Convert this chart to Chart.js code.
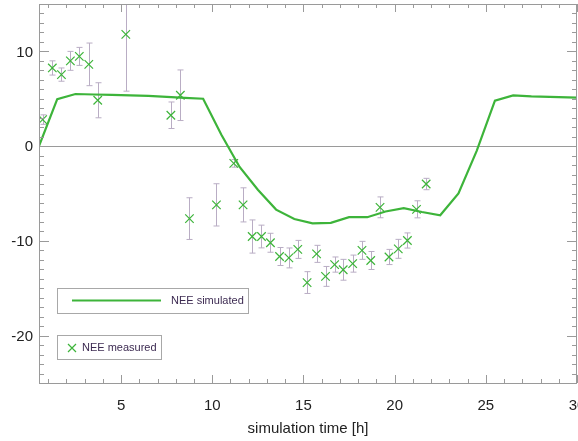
<!DOCTYPE html>
<html>
<head>
<meta charset="utf-8">
<script src="https://cdn.jsdelivr.net/npm/chart.js@4/dist/chart.umd.min.js"></script>
<style>
  html, body { margin: 0; padding: 0; background: #fff; overflow: hidden; }
  #wrap { width: 578px; height: 441px; position: relative; }
</style>
</head>
<body>
<div id="wrap"><canvas id="neeChart"></canvas></div>
<script>
// simulated NEE, hourly
const simT = [0.5, 1.5, 2.5, 3.5, 4.5, 5.5, 6.5, 7.5, 8.5, 9.5, 10.5, 11.5, 12.5, 13.5, 14.5, 15.5,
              16.5, 17.5, 18.5, 19.5, 20.5, 21.5, 22.5, 23.5, 24.5, 25.5, 26.5, 27.5, 28.5, 29.5, 30.5];
const simV = [0, 4.95, 5.5, 5.45, 5.4, 5.35, 5.3, 5.2, 5.1, 5.0, 1.2, -2.2, -4.6, -6.7, -7.7, -8.15,
              -8.1, -7.5, -7.5, -6.9, -6.55, -6.95, -7.3, -5.0, -0.5, 4.8, 5.35, 5.25, 5.2, 5.15, 5.1];

// measured NEE with error
const measT = [0.7, 1.23, 1.73, 2.22, 2.71, 3.23, 3.72, 5.26, 7.73, 8.25, 8.75, 10.23, 11.18, 11.69,
               12.19, 12.7, 13.19, 13.69, 14.2, 14.69, 15.2, 15.72, 16.21, 16.71, 17.18, 17.7,
               18.21, 18.69, 19.2, 19.69, 20.2, 20.7, 21.2, 21.73];
const measV = [2.8, 8.25, 7.55, 9.0, 9.47, 8.63, 4.84, 11.8, 3.26, 5.37, -7.65, -6.2, -1.82, -6.2,
               -9.54, -9.54, -10.2, -11.65, -11.8, -10.9, -14.4, -11.37, -13.75, -12.5, -13.05, -12.4,
               -11.0, -12.07, -6.46, -11.7, -10.84, -9.96, -6.67, -4.0];
const measErr = [0.5, 0.75, 0.7, 1.0, 0.95, 2.25, 1.85, 6.0, 1.4, 2.67, 2.2, 2.23, 0.4, 1.8,
                 1.75, 1.2, 1.0, 0.95, 1.05, 0.95, 1.15, 0.9, 1.05, 0.8, 1.1, 0.9,
                 0.95, 0.95, 1.1, 0.8, 1.0, 0.8, 0.9, 0.6];

const xTickVals = [5, 10, 15, 20, 25, 30];
const yTickVals = [-20, -10, 0, 10];
const xTitle = "simulation time [h]";

const green = "#3db43a";
const axisGrey = "#9a9a9a";
const errColor = "#b9adc4";
const font15 = "15px 'Liberation Sans', Arial, sans-serif";

const idlFrame = {
  id: "idlFrame",
  beforeDatasetsDraw(chart) {
    const {ctx, chartArea: a, scales: {x, y}} = chart;
    ctx.save();
    // zero line
    const y0 = Math.round(y.getPixelForValue(0)) + 0.5;
    ctx.strokeStyle = axisGrey;
    ctx.lineWidth = 1;
    ctx.beginPath();
    ctx.moveTo(a.left, y0);
    ctx.lineTo(a.right, y0);
    ctx.stroke();
    // error bars
    ctx.beginPath();
    ctx.rect(a.left, a.top, a.right - a.left, a.bottom - a.top);
    ctx.clip();
    ctx.strokeStyle = errColor;
    ctx.lineWidth = 1;
    ctx.beginPath();
    for (let i = 0; i < measT.length; i++) {
      const px = Math.round(x.getPixelForValue(measT[i])) + 0.5;
      const lo = y.getPixelForValue(measV[i] - measErr[i]);
      const hi = y.getPixelForValue(measV[i] + measErr[i]);
      ctx.moveTo(px, lo); ctx.lineTo(px, hi);
      ctx.moveTo(px - 3, lo); ctx.lineTo(px + 3, lo);
      ctx.moveTo(px - 3, hi); ctx.lineTo(px + 3, hi);
    }
    ctx.stroke();
    ctx.restore();
  },
  afterDraw(chart) {
    const {ctx, chartArea: a, scales: {x, y}} = chart;
    ctx.save();
    ctx.strokeStyle = axisGrey;
    ctx.lineWidth = 1;
    ctx.strokeRect(a.left + 0.5, a.top + 0.5, a.right - a.left - 1, a.bottom - a.top);
    ctx.beginPath();
    // x ticks, pointing inward on bottom and top
    for (let t = 1; t <= 30; t++) {
      const px = Math.round(x.getPixelForValue(t)) + 0.5;
      const len = t % 5 === 0 ? 8 : 4;
      ctx.moveTo(px, a.bottom); ctx.lineTo(px, a.bottom - len);
      ctx.moveTo(px, a.top); ctx.lineTo(px, a.top + len);
    }
    // y ticks, left and right
    for (let v = -25; v <= 15; v++) {
      const py = Math.round(y.getPixelForValue(v)) + 0.5;
      const len = v % 10 === 0 ? 10 : 5;
      ctx.moveTo(a.left, py); ctx.lineTo(a.left + len, py);
      ctx.moveTo(a.right, py); ctx.lineTo(a.right - len, py);
    }
    ctx.stroke();

    // tick labels and axis title
    ctx.fillStyle = "#222";
    ctx.font = font15;
    ctx.textBaseline = "middle";
    ctx.textAlign = "center";
    xTickVals.forEach(v => ctx.fillText(String(v), x.getPixelForValue(v), a.bottom + 23));
    ctx.fillText(xTitle, (a.left + a.right) / 2, a.bottom + 46);
    ctx.textAlign = "right";
    yTickVals.forEach(v => ctx.fillText(String(v), a.left - 6, y.getPixelForValue(v) + 1));

    // legend boxes
    ctx.font = "11px 'Liberation Sans', Arial, sans-serif";
    ctx.textAlign = "left";
    ctx.strokeStyle = "#a8a8a8";
    ctx.strokeRect(57.5, 288.5, 191, 25);
    ctx.strokeRect(57.5, 335.5, 104, 24);
    ctx.strokeStyle = green;
    ctx.lineWidth = 2.2;
    ctx.beginPath();
    ctx.moveTo(72, 300.5); ctx.lineTo(161, 300.5);
    ctx.stroke();
    ctx.lineWidth = 1.2;
    ctx.beginPath();
    ctx.moveTo(68, 344); ctx.lineTo(76, 352);
    ctx.moveTo(76, 344); ctx.lineTo(68, 352);
    ctx.stroke();
    ctx.fillStyle = "#3d2b52";
    ctx.fillText("NEE simulated", 171, 301);
    ctx.fillText("NEE measured", 82, 348);
    ctx.restore();
  }
};

const neeChart = new Chart("neeChart", {
  type: "scatter",
  data: {
    datasets: [{
      label: "NEE simulated",
      data: simT.map((t, i) => ({x: t, y: simV[i]})),
      showLine: true,
      borderColor: green,
      borderWidth: 2.2,
      pointRadius: 0,
      fill: false
    }, {
      label: "NEE measured",
      data: measT.map((t, i) => ({x: t, y: measV[i]})),
      pointStyle: "crossRot",
      pointRadius: 6,
      borderColor: green,
      borderWidth: 1.2,
      backgroundColor: green
    }]
  },
  options: {
    responsive: true,
    maintainAspectRatio: false,
    animation: false,
    layout: {autoPadding: false, padding: {top: 4, right: 1, left: 39, bottom: 58}},
    plugins: {legend: {display: false}, tooltip: {enabled: false}},
    scales: {
      x: {type: "linear", min: 0.5, max: 30, display: false},
      y: {min: -25, max: 15, display: false}
    }
  },
  plugins: [idlFrame]
});
</script>
</body>
</html>
